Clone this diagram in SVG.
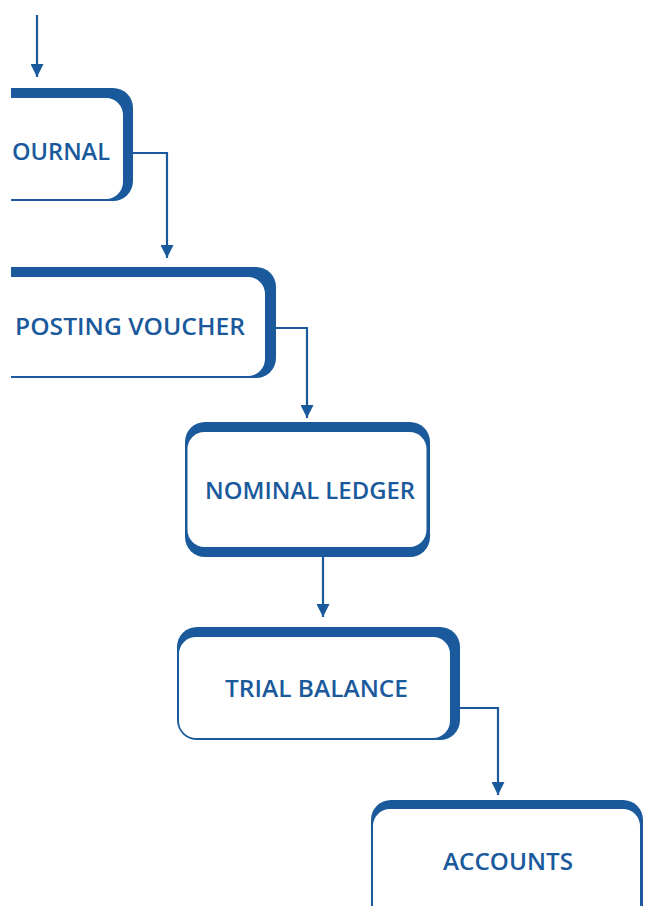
<svg xmlns="http://www.w3.org/2000/svg" width="645" height="908" viewBox="0 0 645 908">
<style>
.outer{fill:#1a5a9c}
.inner{fill:#ffffff}
.lbl{font-family:"Open Sans","Noto Sans",sans-serif;font-size:23px;fill:#1a5a9c;font-weight:600}
.conn{fill:none;stroke:#1a5a9c;stroke-width:2.2}
</style>
<defs>
<marker id="arr" viewBox="0 0 10 10" refX="10" refY="5" markerWidth="15" markerHeight="13" orient="auto" markerUnits="userSpaceOnUse">
<path d="M0,0 L10,5 L0,10 z" fill="#1a5a9c"/>
</marker>
<clipPath id="page"><rect x="11" y="0" width="632" height="906"/></clipPath>
</defs>
<rect width="645" height="908" fill="#ffffff"/>
<g clip-path="url(#page)">
<g id="journal">
<rect class="outer" x="-20" y="88" width="153" height="113" rx="20"/>
<rect class="inner" x="-18" y="98" width="141" height="101" rx="17"/>
<text class="lbl" x="12" y="160" textLength="98" lengthAdjust="spacingAndGlyphs">OURNAL</text>
</g>
<g id="posting-voucher">
<rect class="outer" x="-20" y="267" width="296" height="111" rx="20"/>
<rect class="inner" x="-18" y="277" width="283" height="99" rx="17"/>
<text class="lbl" x="15" y="335" textLength="230" lengthAdjust="spacingAndGlyphs">POSTING VOUCHER</text>
</g>
<g id="nominal-ledger">
<rect class="outer" x="185" y="422" width="245" height="135" rx="20"/>
<rect class="inner" x="187.5" y="432" width="239" height="115" rx="17"/>
<text class="lbl" x="205" y="499" textLength="210" lengthAdjust="spacingAndGlyphs">NOMINAL LEDGER</text>
</g>
<g id="trial-balance">
<rect class="outer" x="177" y="627" width="283" height="113" rx="20"/>
<rect class="inner" x="179" y="637" width="271" height="101" rx="17"/>
<text class="lbl" x="225" y="697" textLength="183" lengthAdjust="spacingAndGlyphs">TRIAL BALANCE</text>
</g>
<g id="accounts">
<rect class="outer" x="371" y="800" width="272" height="130" rx="20"/>
<rect class="inner" x="373" y="809" width="267" height="120" rx="17"/>
<text class="lbl" x="443" y="870" textLength="130" lengthAdjust="spacingAndGlyphs">ACCOUNTS</text>
</g>
</g>
<g id="connectors">
<path class="conn" d="M37,15 L37,77" marker-end="url(#arr)"/>
<path class="conn" d="M133,153 L167,153 L167,258" marker-end="url(#arr)"/>
<path class="conn" d="M276,328 L307,328 L307,418" marker-end="url(#arr)"/>
<path class="conn" d="M323,557 L323,617" marker-end="url(#arr)"/>
<path class="conn" d="M460,708 L498,708 L498,795" marker-end="url(#arr)"/>
</g>
</svg>
